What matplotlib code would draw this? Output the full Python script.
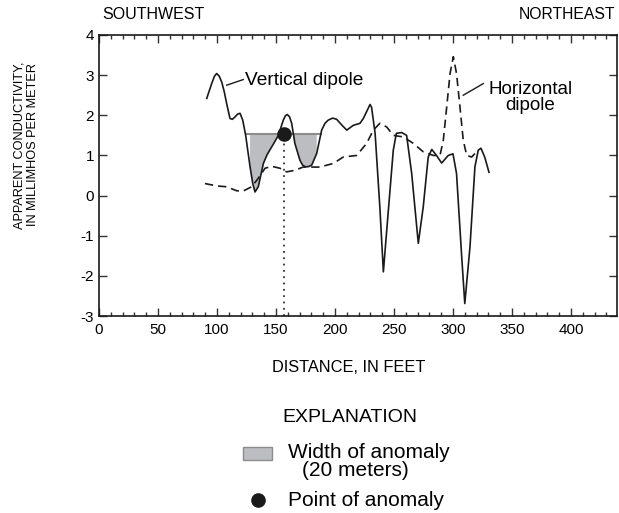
import numpy as np
import matplotlib
matplotlib.use("Agg")
import matplotlib.pyplot as plt

plt.rcParams['font.family'] = ['Liberation Sans', 'DejaVu Sans']
plt.rcParams['axes.unicode_minus'] = False

# vertical dipole (solid line)
vert_x = [91.3, 95.5, 97.8, 99.7, 101.8, 104, 106.2, 108.2, 111, 113, 115.3, 117.5,
          119.5, 121.8, 124.3, 128, 130.3, 132.2, 135, 139.3, 142.5, 146.3, 149.3,
          152, 156.2, 158, 159.6, 161.5, 163.3, 166, 170.3, 172.5, 174.6, 177.5,
          180.3, 184.5, 188.7, 191.5, 194.3, 198, 201.4, 206, 210, 215.5, 221.2,
          224, 226.8, 229.7, 231, 234, 238, 241, 245, 249.4, 252, 256.5, 260.7, 265,
          270.6, 274.8, 279, 282, 286, 290.4, 296, 300, 303, 307.4, 310, 314.4,
          318.6, 321.4, 323.7, 327, 330.5]
vert_y = [2.42, 2.79, 2.97, 3.04, 2.98, 2.83, 2.58, 2.29, 1.92, 1.9, 1.96, 2.03,
          2.05, 1.88, 1.5, 0.72, 0.3, 0.09, 0.22, 0.8, 1.02, 1.21, 1.36,
          1.5, 1.88, 1.99, 2.02, 1.96, 1.8, 1.3, 0.88, 0.76, 0.72, 0.72,
          0.76, 1.05, 1.63, 1.8, 1.88, 1.93, 1.9, 1.75, 1.63, 1.75, 1.8,
          1.92, 2.09, 2.27, 2.2, 1.55, -0.28, -1.9, -0.45, 1.13, 1.55, 1.57, 1.5, 0.55,
          -1.19, -0.28, 0.96, 1.15, 1.0, 0.81, 1.0, 1.04, 0.55, -1.53, -2.69, -1.28,
          0.72, 1.13, 1.18, 0.95, 0.58]

# horizontal dipole (dashed line)
horiz_x = [89.8, 99.7, 108, 116.7, 122, 129.4, 135, 140.7, 146.3, 153.4, 159, 166,
           173, 187, 198.6, 207, 218.4, 226.8, 232.5, 238, 243.8, 249.4, 258,
           266.4, 274.8, 283.3, 289, 291.8, 294.7, 297.5, 300.3, 303, 305.9,
           308.7, 311.6, 315.8, 320]
horiz_y = [0.3, 0.24, 0.22, 0.12, 0.11, 0.22, 0.43, 0.68, 0.73, 0.68, 0.59, 0.63,
           0.71, 0.71, 0.8, 0.96, 1.0, 1.3, 1.63, 1.8, 1.71, 1.5, 1.46,
           1.3, 1.09, 1.0, 1.0, 1.38, 2.21, 3.04, 3.46, 3.04, 2.21,
           1.38, 1.0, 0.96, 1.09]

anomaly_level = 1.53
anomaly_range = (124.6, 188.1)
anomaly_point = (157, 1.53)

x_ticks = [0, 50, 100, 150, 200, 250, 300, 350, 400]
y_ticks = [-3, -2, -1, 0, 1, 2, 3, 4]

W, H = 619, 513
fig = plt.figure(figsize=(W / 100, H / 100), dpi=100)
ax = fig.add_axes([99 / W, 1 - 316 / H, (617 - 99) / W, (316 - 35) / H])


def px(x, y):
    return x / W, 1 - y / H


vx = np.array(vert_x)
vy = np.array(vert_y)
ax.plot(vx, vy, color='#1a1a1a', lw=1.2)
ax.plot(horiz_x, horiz_y, color='#1a1a1a', lw=1.2, dashes=(5, 3))

m = (vx >= anomaly_range[0]) & (vx <= anomaly_range[1])
ax.fill_between(vx[m], vy[m], anomaly_level, where=vy[m] < anomaly_level,
                interpolate=True, color='#bcbdc0', lw=0, zorder=1)
ax.plot(anomaly_range, [anomaly_level, anomaly_level], color='#8c8c8c', lw=1.5, zorder=1.5)

ax.plot([anomaly_point[0]] * 2, [-3, anomaly_point[1]], color='#333333', lw=1.3,
        ls=(0, (1, 2.5)))
ax.plot(*anomaly_point, 'o', color='#1a1a1a', ms=9.5, zorder=5)

ax.set_xlim(0, 439)
ax.set_ylim(-3, 4)
ax.set_xticks(x_ticks)
ax.set_xticks(np.arange(10, 440, 10), minor=True)
ax.set_yticks(y_ticks)
ax.tick_params(which='both', direction='in', top=True, right=True, labelsize=11,
               width=1, color='#333333')
ax.tick_params(which='major', length=6)
ax.tick_params(which='minor', length=3)
ax.tick_params(axis='x', pad=5)
for s in ax.spines.values():
    s.set_linewidth(1.2)
    s.set_color('#1a1a1a')

# curve labels
ax.text(123.7, 2.75, 'Vertical dipole', fontsize=13.8, va='baseline', ha='left')
ax.plot([108.2, 122.3], [2.75, 2.89], color='#1a1a1a', lw=1)
ax.text(365.7, 2.54, 'Horizontal', fontsize=13.5, va='baseline', ha='center')
ax.text(365.7, 2.13, 'dipole', fontsize=13.5, va='baseline', ha='center')
ax.plot([308.7, 325.7], [2.5, 2.79], color='#1a1a1a', lw=1)

fig.text(*px(102, 15), 'SOUTHWEST', fontsize=11.5, va='center', ha='left')
fig.text(*px(615, 15), 'NORTHEAST', fontsize=11.3, va='center', ha='right')

fig.text(*px(26, 145), 'APPARENT CONDUCTIVITY,\nIN MILLIMHOS PER METER', fontsize=9.2,
         rotation=90, va='center', ha='center', multialignment='center', linespacing=1.12)
fig.text(*px(349, 367), 'DISTANCE, IN FEET', fontsize=11.8, va='center', ha='center')

# explanation
fig.text(*px(350, 418), 'EXPLANATION', fontsize=14, va='center', ha='center')
rx0, ry0 = px(243, 460)
rect = plt.Rectangle((rx0, ry0), 29 / W, 13 / H, transform=fig.transFigure,
                     facecolor='#bcbdc0', edgecolor='#8c8c8c', lw=1)
fig.patches.append(rect)
fig.text(*px(288, 452), 'Width of anomaly', fontsize=15, va='center', ha='left')
fig.text(*px(302, 470), '(20 meters)', fontsize=15, va='center', ha='left')
fig.lines.append(plt.Line2D([258 / W], [1 - 500 / H], marker='o', color='#1a1a1a',
                            ms=9.5, transform=fig.transFigure))
fig.text(*px(288, 500), 'Point of anomaly', fontsize=15, va='center', ha='left')

fig.savefig('out.png', dpi=100)
